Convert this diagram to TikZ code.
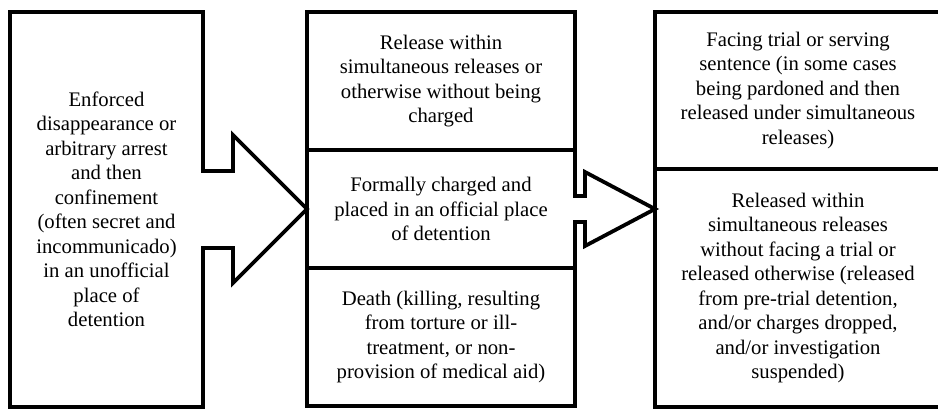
\documentclass[tikz,border=0pt]{standalone}
\usepackage{fontspec}
\setmainfont{Liberation Serif}
\usepackage{tikz}
\usetikzlibrary{positioning}
\tikzset{
    every picture/.style={x=1pt,y=-1pt},
    cell/.style={draw, line width=3.8pt, outer sep=0pt, inner sep=0pt,
          align=center, font=\fontsize{20.7}{24.5}\selectfont},
    flow/.style={line width=3.8pt, fill=white, line join=miter},
}

\begin{document}
\begin{tikzpicture}[midcol/.style={cell,minimum width=268pt},
                    rightcol/.style={cell,minimum width=286pt}]
        \useasboundingbox (0,0) rectangle (938,410);
        \node[cell,minimum width=193pt,minimum height=395pt] (disappear) at (106.5,209.5)
            {Enforced\\disappearance or\\arbitrary arrest\\and then\\confinement\\(often secret and\\incommunicado)\\in an unofficial\\place of\\detention};
        \node[midcol,minimum height=138pt,anchor=north] (release) at (441,12)
            {Release within\\simultaneous releases or\\otherwise without being\\charged};
        \node[midcol,minimum height=118pt,below=0pt of release] (charged)
            {Formally charged and\\placed in an official place\\of detention};
        \node[midcol,minimum height=138pt,below=0pt of charged] (death)
            {Death (killing, resulting\\from torture or ill-\\treatment, or non-\\provision of medical aid)};
        \node[rightcol,minimum height=157pt,anchor=north] (trial) at (798,12)
            {Facing trial or serving\\sentence (in some cases\\being pardoned and then\\released under simultaneous\\releases)};
        \node[rightcol,minimum height=238pt,below=0pt of trial] (freed)
            {Released within\\simultaneous releases\\without facing a trial or\\released otherwise (released\\from pre-trial detention,\\and/or charges dropped,\\and/or investigation\\suspended)};
        \coordinate (tip) at (freed.west |- charged.east);
        % block arrows, open at the tail
        \filldraw[flow] ([xshift=-1.9pt,yshift=38.5pt]disappear.east) -| ([xshift=-74pt,yshift=74pt]charged.west)
            -- (charged.west) -- ([xshift=-74pt,yshift=-74pt]charged.west) |- ([xshift=-1.9pt,yshift=-38.5pt]disappear.east);
        \filldraw[flow] ([xshift=-1.9pt,yshift=13pt]charged.east) -| ([xshift=-70pt,yshift=37pt]tip)
            -- (tip) -- ([xshift=-70pt,yshift=-37pt]tip) |- ([xshift=-1.9pt,yshift=-13pt]charged.east);
    \end{tikzpicture}
\end{document}
